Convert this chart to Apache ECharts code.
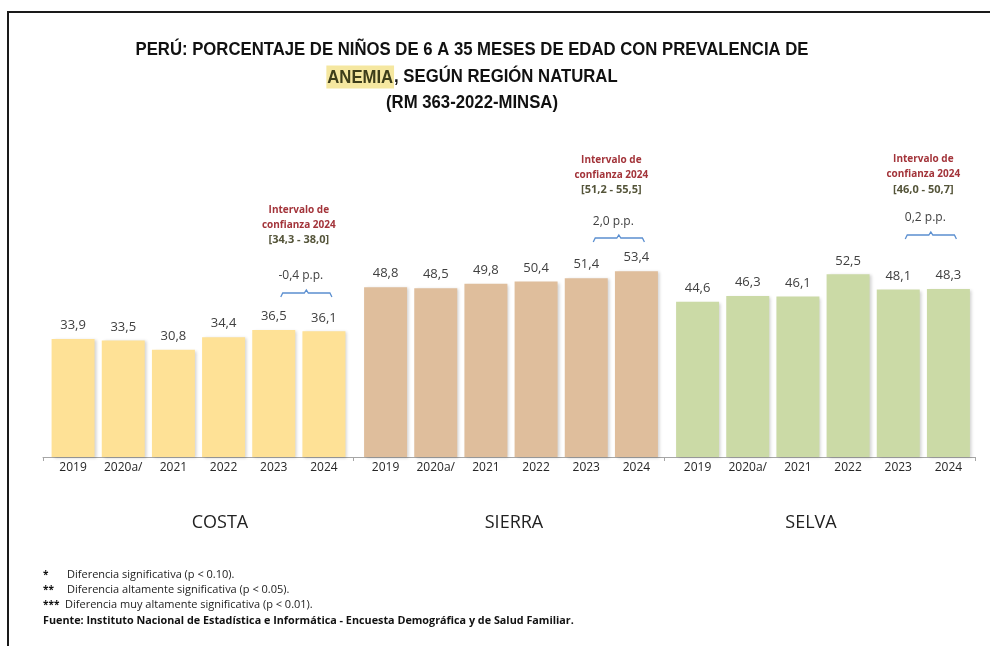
<!DOCTYPE html>
<html>
<head>
<meta charset="utf-8">
<script src="https://cdn.jsdelivr.net/npm/echarts@6/dist/echarts.min.js"></script>
<style>
    html, body {margin: 0; padding: 0; background: #fff;}
    #main {width: 990px; height: 646px;}
</style>
</head>
<body>
<div id="main"></div>
<script>
    // datos
    var years = ['2019', '2020a/', '2021', '2022', '2023', '2024'];
    var regions = ['COSTA', 'SIERRA', 'SELVA'];
    var costa = [33.9, 33.5, 30.8, 34.4, 36.5, 36.1];
    var sierra = [48.8, 48.5, 49.8, 50.4, 51.4, 53.4];
    var selva = [44.6, 46.3, 46.1, 52.5, 48.1, 48.3];
    var intervals = ['[34,3 - 38,0]', '[51,2 - 55,5]', '[46,0 - 50,7]'];
    var diffs = ['-0,4 p.p.', '2,0 p.p.', '0,2 p.p.'];
    var notes = [
        ['*', 'Diferencia significativa (p < 0.10).'],
        ['**', 'Diferencia altamente significativa (p < 0.05).'],
        ['***', 'Diferencia muy altamente significativa (p < 0.01).']
    ];
    var source = 'Fuente: Instituto Nacional de Estadística e Informática - Encuesta Demográfica y de Salud Familiar.';

    var colors = ['#fee196', '#dfbe9c', '#cbdaa6'];
    var gridLeft = [48, 360.5, 672.5];
    // alturas de las anotaciones (px) por region: intervalo, confianza, rango, p.p., llave
    var annoY = [[210, 225, 240, 276, 293], [160, 175, 190, 222, 238], [159, 174, 190, 218, 235]];
    var regionX = [220, 514, 811];

    var font = '"Open Sans", sans-serif';
    var myChart = echarts.init(document.getElementById('main'));

    var grids = [], xAxes = [], yAxes = [], series = [];
    var values = [costa, sierra, selva];
    for (var i = 0; i < 3; i++) {
        grids.push({left: gridLeft[i], width: 301, top: 109, height: 348});
        xAxes.push({
            type: 'category', gridIndex: i, data: years,
            axisLine: {show: false}, axisTick: {show: false},
            axisLabel: {color: '#262626', fontSize: 12, fontFamily: font, margin: 5}
        });
        yAxes.push({type: 'value', gridIndex: i, min: 0, max: 100, show: false});
        series.push({
            type: 'bar', xAxisIndex: i, yAxisIndex: i,
            data: values[i], barWidth: 43,
            itemStyle: {
                color: colors[i],
                shadowColor: 'rgba(0,0,0,0.18)', shadowBlur: 3, shadowOffsetX: 2, shadowOffsetY: 1
            },
            label: {
                show: true, position: 'top', distance: 7,
                color: '#404040', fontSize: 13, fontFamily: font,
                formatter: function (p) {
                    return p.value.toFixed(1).replace('.', ',');
                }
            }
        });
    }
    // eje base continuo
    grids.push({left: 43, width: 932, top: 109, height: 348});
    xAxes.push({
        type: 'category', gridIndex: 3, data: regions,
        axisLine: {lineStyle: {color: '#a6a6a6', width: 1}},
        axisTick: {show: true, length: 4, lineStyle: {color: '#a6a6a6'}},
        axisLabel: {show: false}
    });
    yAxes.push({type: 'value', gridIndex: 3, min: 0, max: 100, show: false});

    myChart.setOption({
        animation: false,
        grid: grids,
        xAxis: xAxes,
        yAxis: yAxes,
        series: series
    });

    var graphics = [];
    // marco
    graphics.push({type: 'polyline', shape: {points: [[8, 646], [8, 12], [990, 12]]},
        style: {stroke: '#1a1a1a', lineWidth: 2, fill: null}});
    // titulo (fuente angosta simulada con scaleX)
    var tFamily = '"Liberation Sans", Arial, sans-serif';
    var titleLines = [
        'PERÚ: PORCENTAJE DE NIÑOS DE 6 A 35 MESES DE EDAD CON PREVALENCIA DE',
        '{h|ANEMIA}, SEGÚN REGIÓN NATURAL',
        '(RM 363-2022-MINSA)'
    ];
    var titleY = [50, 77, 103];
    for (var t = 0; t < titleLines.length; t++) {
        graphics.push({
            type: 'text', x: 472, y: titleY[t], scaleX: 0.88,
            style: {
                x: 0, y: 0, text: titleLines[t], align: 'center', verticalAlign: 'middle',
                fontFamily: tFamily, fontWeight: 'bold', fontSize: 19, fill: '#111',
                rich: {h: {backgroundColor: '#f5e7a0', fill: '#3d3d1a', fontFamily: tFamily, fontWeight: 'bold', fontSize: 19, padding: [3, 1, 1, 1]}}
            }
        });
    }

    for (var r = 0; r < 3; r++) {
        var p23 = myChart.convertToPixel({xAxisIndex: r}, '2023');
        var p24 = myChart.convertToPixel({xAxisIndex: r}, '2024');
        var cx = (p23 + p24) / 2;
        var ay = annoY[r];
        graphics.push({type: 'text', style: {x: cx, y: ay[0], text: 'Intervalo de', align: 'center', verticalAlign: 'middle',
            fill: '#a3343a', fontFamily: font, fontWeight: 'bold', fontSize: 10}});
        graphics.push({type: 'text', style: {x: cx, y: ay[1], text: 'confianza 2024', align: 'center', verticalAlign: 'middle',
            fill: '#a3343a', fontFamily: font, fontWeight: 'bold', fontSize: 10}});
        graphics.push({type: 'text', style: {x: cx, y: ay[2], text: intervals[r], align: 'center', verticalAlign: 'middle',
            fill: '#55553a', fontFamily: font, fontWeight: 'bold', fontSize: 11}});
        graphics.push({type: 'text', style: {x: cx + 2, y: ay[3], text: diffs[r], align: 'center', verticalAlign: 'middle',
            fill: '#404040', fontFamily: font, fontSize: 12}});
        // llave
        var x1 = p23 + 7, x2 = p24 + 8, by = ay[4], xm = (x1 + x2) / 2;
        graphics.push({type: 'polyline', shape: {points: [[x1, by + 4], [x1 + 2, by], [xm - 2, by], [xm, by - 3], [xm + 2, by], [x2 - 2, by], [x2, by + 4]]},
            style: {stroke: '#5b8fd0', lineWidth: 1.3, fill: null}});
        // region
        graphics.push({type: 'text', style: {x: regionX[r], y: 523, text: regions[r], align: 'center', verticalAlign: 'middle',
            fill: '#222', fontFamily: font, fontSize: 18}});
    }

    // notas
    var ny = [575, 590, 605];
    var nx = [67, 67, 65];
    for (var n = 0; n < notes.length; n++) {
        graphics.push({type: 'text', style: {x: 43, y: ny[n], text: notes[n][0], verticalAlign: 'middle',
            fill: '#111', fontFamily: font, fontWeight: 'bold', fontSize: 10}});
        graphics.push({type: 'text', style: {x: nx[n], y: ny[n], text: notes[n][1], verticalAlign: 'middle',
            fill: '#222', fontFamily: font, fontSize: 11}});
    }
    graphics.push({type: 'text', style: {x: 43, y: 621, text: source, verticalAlign: 'middle',
        fill: '#111', fontFamily: font, fontWeight: 'bold', fontSize: 10.8}});

    myChart.setOption({graphic: graphics});
</script>
</body>
</html>
